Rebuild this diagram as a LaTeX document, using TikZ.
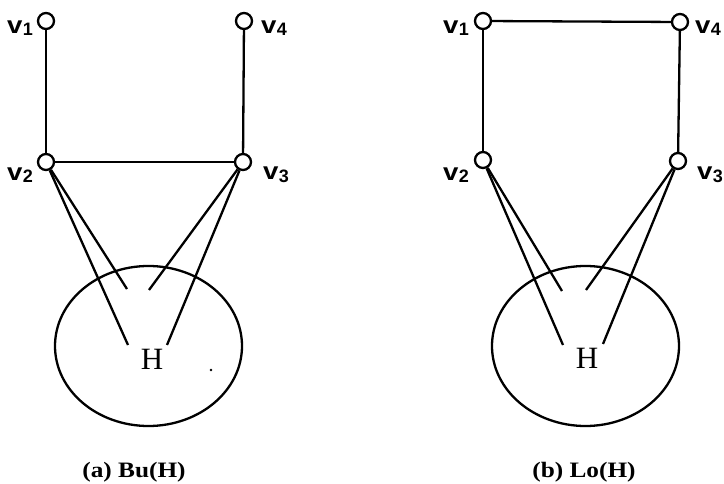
\documentclass[tikz,border=0pt]{standalone}
\usepackage{fontspec}
\newfontfamily\labfont{Liberation Sans}
\newfontfamily\capfont{Liberation Serif}
\usetikzlibrary{calc,shapes.geometric}

% vertex label: a wide sans "v" with a large, slightly lowered index
\newcommand{\vtx}[1]{\labfont\bfseries\scalebox{1.15}[1]{\fontsize{24}{24}\selectfont v}\kern0.2pt\raisebox{-2.5pt}{\fontsize{18}{18}\selectfont #1}}
% caption: a heavy, slightly widened serif
\newcommand{\captext}[1]{\scalebox{1.15}[1]{\capfont\bfseries\fontsize{22}{22}\selectfont #1}}

\begin{document}
\begin{tikzpicture}[x=1pt,y=-1pt,
  vert/.style={circle,draw,line width=2.3pt,minimum size=16pt,inner sep=0pt},
  edge/.style={line width=2.3pt},
  blob/.style={ellipse,draw,line width=2.3pt,minimum width=187pt,minimum height=160pt,inner sep=0pt},
  vlabel/.style={inner sep=0pt},
  hlabel/.style={inner sep=0pt,font=\capfont\fontsize{31}{31}\selectfont},
  caption/.style={inner sep=0pt}]
\useasboundingbox (0,0) rectangle (724,484);

% ---------------- (a) Bu(H) ----------------
\node[blob] (Ha) at (148.5,346) {};
\node[hlabel] (Hla) at (152,359) {H};
\node[vert] (a1) at (46,21) {};
\node[vert] (a4) at (244,21) {};
\node[vert] (a2) at (46,162) {};
\node[vert] (a3) at (243,162) {};
\node[vlabel] (la1) at (20,28) {\vtx{1}};
\node[vlabel] (la4) at (274,28) {\vtx{4}};
\node[vlabel] (la2) at (20,175) {\vtx{2}};
\node[vlabel] (la3) at (276,175) {\vtx{3}};
\coordinate (a2p) at (127,289);
\coordinate (a2q) at (128,345);
\coordinate (a3p) at (149,290);
\coordinate (a3q) at (167,345);
\draw[edge] (a1) -- (a2);
\draw[edge] (a4) -- (a3);
\draw[edge] (a2) -- (a3);
\draw[edge] (a2) -- (a2p);
\draw[edge] (a2) -- (a2q);
\draw[edge] (a3) -- (a3p);
\draw[edge] (a3) -- (a3q);
\fill (211,370) circle (1.3pt);
\node[caption] (capa) at (134,472) {\captext{(a) Bu(H)}};

% ---------------- (b) Lo(H) ----------------
\node[blob] (Hb) at (585.5,346) {};
\node[hlabel] (Hlb) at (587,358) {H};
\node[vert] (b1) at (483,21) {};
\node[vert] (b4) at (680,22) {};
\node[vert] (b2) at (483,160) {};
\node[vert] (b3) at (678,161) {};
\node[vlabel] (lb1) at (456,28) {\vtx{1}};
\node[vlabel] (lb4) at (708,28) {\vtx{4}};
\node[vlabel] (lb2) at (456,175) {\vtx{2}};
\node[vlabel] (lb3) at (710,175) {\vtx{3}};
\coordinate (b2p) at (562,291);
\coordinate (b2q) at (563,345);
\coordinate (b3p) at (586,290);
\coordinate (b3q) at (603,344);
\draw[edge] (b1) -- (b4);
\draw[edge] (b1) -- (b2);
\draw[edge] (b4) -- (b3);
\draw[edge] (b2) -- (b2p);
\draw[edge] (b2) -- (b2q);
\draw[edge] (b3) -- (b3p);
\draw[edge] (b3) -- (b3q);
\node[caption] (capb) at (584,472) {\captext{(b) Lo(H)}};
\end{tikzpicture}
\end{document}
